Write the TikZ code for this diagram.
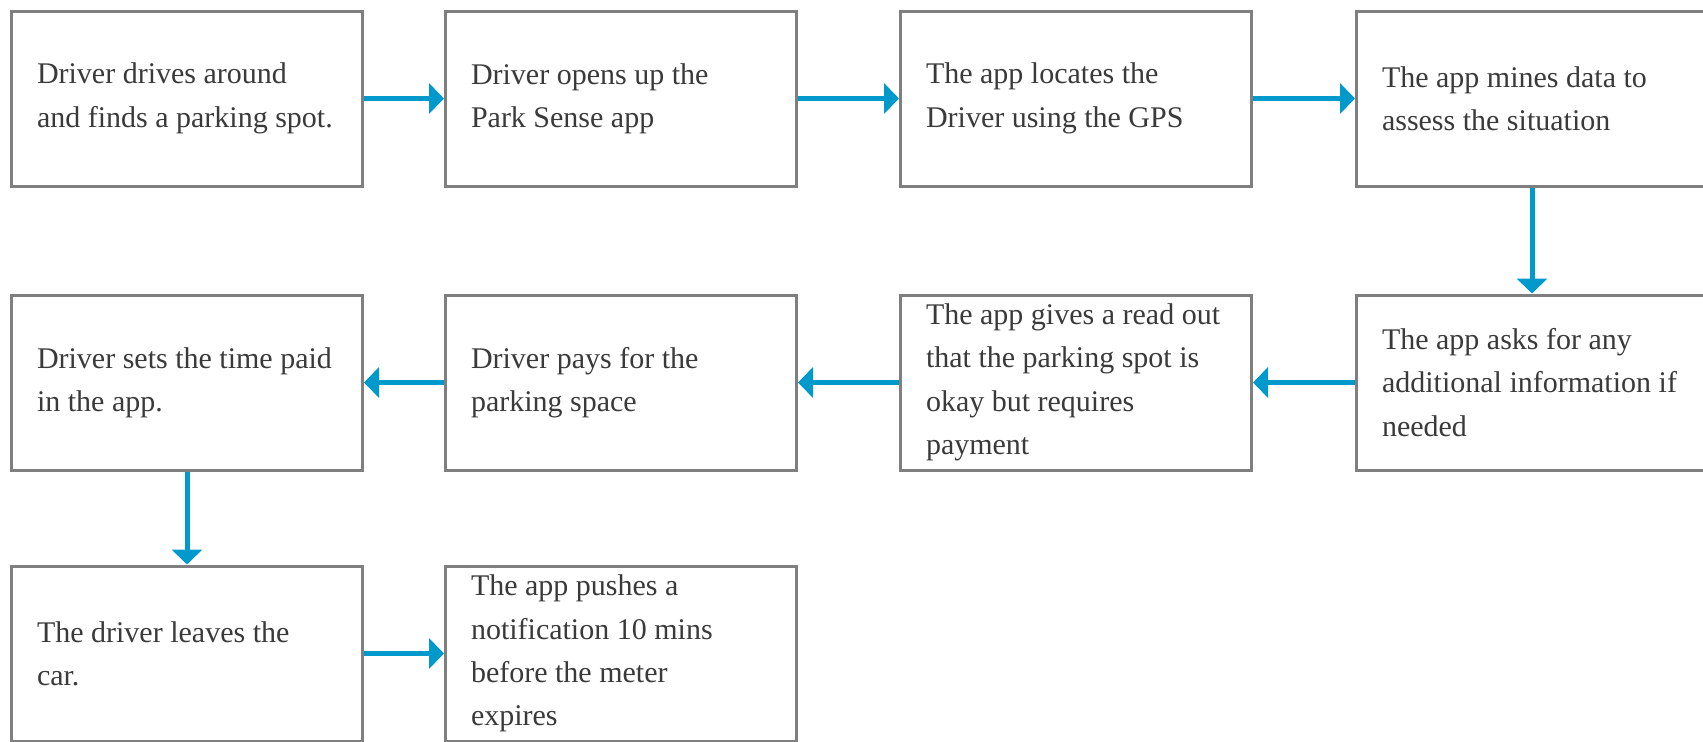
\documentclass[tikz,border=0pt]{standalone}
\usepackage{fontspec}
\setmainfont{Liberation Serif}
\usetikzlibrary{arrows.meta,positioning}
\definecolor{flowBlue}{HTML}{0099CC}
\definecolor{boxGray}{HTML}{7F7F7F}
\definecolor{ink}{HTML}{3A3A3A}
\tikzset{
  every node/.style={text=ink},
  flow box/.style={
    draw=boxGray,
    line width=1.5pt,
    minimum width=175.5pt,
    minimum height=87.5pt,
    text width=150pt,
    align=flush left,
    inner sep=0pt,
    font=\fontsize{15}{21.7}\selectfont
  },
  flow arrow/.style={-{Triangle[length=7.5pt,width=15pt]},line width=2.5pt,draw=flowBlue},
}

\begin{document}
\begin{tikzpicture}
  \useasboundingbox (0,0) rectangle (851.5pt,-370.5pt);

  % top row, left to right
  \node[flow box] (drive) at (93.5pt,-49.25pt) {Driver drives around\\and finds a parking spot.};
  \node[flow box,right=40pt of drive] (open) {Driver opens up the\\Park Sense app};
  \node[flow box,right=50.5pt of open] (locate) {The app locates the\\Driver using the GPS};
  \node[flow box,right=51pt of locate] (mine) {The app mines data to\\assess the situation};

  % middle row, right to left
  \node[flow box,below=53pt of mine] (ask) {The app asks for any\\additional information if\\needed};
  \node[flow box,left=51pt of ask] (readout) {The app gives a read out\\that the parking spot is\\okay but requires\\payment};
  \node[flow box,left=50.5pt of readout] (pay) {Driver pays for the\\parking space};
  \node[flow box,left=40pt of pay] (settime) {Driver sets the time paid\\in the app.};

  % bottom row
  \node[flow box,below=46.5pt of settime] (leave) {The driver leaves the\\car.};
  \node[flow box,right=40pt of leave] (notify) {The app pushes a\\notification 10 mins\\before the meter\\expires};

  \draw[flow arrow] (drive.east) -- (open.west);
  \draw[flow arrow] (open.east) -- (locate.west);
  \draw[flow arrow] (locate.east) -- (mine.west);
  \draw[flow arrow] (mine.south) -- (ask.north);
  \draw[flow arrow] (ask.west) -- (readout.east);
  \draw[flow arrow] (readout.west) -- (pay.east);
  \draw[flow arrow] (pay.west) -- (settime.east);
  \draw[flow arrow] (settime.south) -- (leave.north);
  \draw[flow arrow] (leave.east) -- (notify.west);

\end{tikzpicture}
\end{document}
